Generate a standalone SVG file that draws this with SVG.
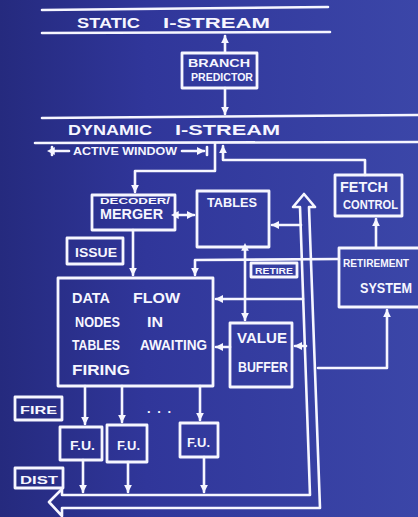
<svg xmlns="http://www.w3.org/2000/svg" width="418" height="517" viewBox="0 0 418 517">
<defs>
<linearGradient id="bg" x1="0" y1="0" x2="1" y2="0">
<stop offset="0" stop-color="#252a7e"/>
<stop offset="0.35" stop-color="#30369a"/>
<stop offset="1" stop-color="#3b46a8"/>
</linearGradient>
<marker id="ah" viewBox="0 0 10 10" refX="9" refY="5" markerWidth="3" markerHeight="3" orient="auto" markerUnits="strokeWidth">
<path d="M0,0 L10,5 L0,10 Z" fill="#f6f6ff"/>
</marker>
<marker id="as" viewBox="0 0 10 10" refX="1" refY="5" markerWidth="3" markerHeight="3" orient="auto-start-reverse" markerUnits="strokeWidth">
<path d="M0,0 L10,5 L0,10 Z" fill="#f6f6ff"/>
</marker>
</defs>
<style>
.box{fill:none;stroke:#f6f6ff;stroke-width:2.8;stroke-linejoin:round}
.ln{fill:none;stroke:#f6f6ff;stroke-width:2.6;stroke-linejoin:round;stroke-linecap:round}
.t{fill:#f6f6ff;font-family:"Liberation Sans","DejaVu Sans",sans-serif;font-weight:bold}
</style>
<rect x="0" y="0" width="418" height="517" fill="url(#bg)"/>

<g id="static-stream">
<path class="ln" d="M42,10 L328,7"/>
<path class="ln" d="M42,33 L330,32"/>
<text class="t" x="77" y="28" font-size="14" textLength="63" lengthAdjust="spacingAndGlyphs">STATIC</text>
<text class="t" x="163" y="28" font-size="14" textLength="107" lengthAdjust="spacingAndGlyphs">I-STREAM</text>
</g>

<g id="branch-predictor">
<rect class="box" x="182" y="53" width="75" height="35"/>
<text class="t" x="188" y="67" font-size="11" textLength="62" lengthAdjust="spacingAndGlyphs">BRANCH</text>
<text class="t" x="191" y="81" font-size="11" textLength="62" lengthAdjust="spacingAndGlyphs">PREDICTOR</text>
</g>

<g id="dynamic-stream">
<path class="ln" d="M42,118 L418,115"/>
<path class="ln" d="M35,143 L418,142"/>
<text class="t" x="68" y="135" font-size="14" textLength="84" lengthAdjust="spacingAndGlyphs">DYNAMIC</text>
<text class="t" x="175" y="135" font-size="14" textLength="105" lengthAdjust="spacingAndGlyphs">I-STREAM</text>
</g>

<g id="active-window">
<path class="ln" d="M52,147 L52,155"/>
<path class="ln" d="M54,151 L69,151" marker-start="url(#as)"/>
<text class="t" x="73" y="155" font-size="10" textLength="104" lengthAdjust="spacingAndGlyphs">ACTIVE WINDOW</text>
<path class="ln" d="M182,151 L204,151" marker-end="url(#ah)"/>
<path class="ln" d="M207,147 L207,155"/>
</g>

<g id="decoder-merger">
<rect class="box" x="92" y="195" width="83" height="35"/>
<text class="t" x="100" y="204" font-size="9" textLength="70" lengthAdjust="spacingAndGlyphs">DECODER/</text>
<text class="t" x="100" y="219" font-size="14" textLength="63" lengthAdjust="spacingAndGlyphs">MERGER</text>
</g>

<g id="tables">
<rect class="box" x="197" y="191" width="72" height="56"/>
<text class="t" x="207" y="207" font-size="12" textLength="50" lengthAdjust="spacingAndGlyphs">TABLES</text>
</g>

<g id="fetch-control">
<rect class="box" x="335" y="175" width="67" height="41"/>
<text class="t" x="340" y="192" font-size="14" textLength="48" lengthAdjust="spacingAndGlyphs">FETCH</text>
<text class="t" x="343" y="209" font-size="12" textLength="55" lengthAdjust="spacingAndGlyphs">CONTROL</text>
</g>

<g id="issue">
<rect class="box" x="67" y="238" width="56" height="26"/>
<text class="t" x="75" y="257" font-size="12" textLength="42" lengthAdjust="spacingAndGlyphs">ISSUE</text>
</g>

<g id="retire-label">
<rect class="box" x="251" y="263" width="46" height="14"/>
<text class="t" x="255" y="274" font-size="9" textLength="38" lengthAdjust="spacingAndGlyphs">RETIRE</text>
</g>

<g id="retirement-system">
<rect class="box" x="339" y="248" width="90" height="59"/>
<text class="t" x="343" y="267" font-size="11" textLength="66" lengthAdjust="spacingAndGlyphs">RETIREMENT</text>
<text class="t" x="360" y="293" font-size="14" textLength="52" lengthAdjust="spacingAndGlyphs">SYSTEM</text>
</g>

<g id="data-flow">
<rect class="box" x="58" y="278" width="155" height="108"/>
<text class="t" x="72" y="303" font-size="15" textLength="38" lengthAdjust="spacingAndGlyphs">DATA</text>
<text class="t" x="133" y="303" font-size="15" textLength="47" lengthAdjust="spacingAndGlyphs">FLOW</text>
<text class="t" x="75" y="327" font-size="15" textLength="45" lengthAdjust="spacingAndGlyphs">NODES</text>
<text class="t" x="147" y="327" font-size="15" textLength="16" lengthAdjust="spacingAndGlyphs">IN</text>
<text class="t" x="72" y="350" font-size="15" textLength="48" lengthAdjust="spacingAndGlyphs">TABLES</text>
<text class="t" x="140" y="350" font-size="15" textLength="67" lengthAdjust="spacingAndGlyphs">AWAITING</text>
<text class="t" x="72" y="375" font-size="15" textLength="58" lengthAdjust="spacingAndGlyphs">FIRING</text>
</g>

<g id="value-buffer">
<rect class="box" x="230" y="323" width="62" height="64"/>
<text class="t" x="237" y="343" font-size="14" textLength="50" lengthAdjust="spacingAndGlyphs">VALUE</text>
<text class="t" x="238" y="372" font-size="14" textLength="50" lengthAdjust="spacingAndGlyphs">BUFFER</text>
</g>

<g id="fire">
<rect class="box" x="15" y="397" width="47" height="23"/>
<text class="t" x="20" y="414" font-size="11" textLength="37" lengthAdjust="spacingAndGlyphs">FIRE</text>
</g>

<g id="fu1">
<rect class="box" x="60" y="427" width="42" height="33"/>
<text class="t" x="70" y="450" font-size="13" textLength="25" lengthAdjust="spacingAndGlyphs">F.U.</text>
</g>
<g id="fu2">
<rect class="box" x="107" y="425" width="40" height="37"/>
<text class="t" x="117" y="450" font-size="13" textLength="23" lengthAdjust="spacingAndGlyphs">F.U.</text>
</g>
<g id="fu3">
<rect class="box" x="180" y="423" width="38" height="34"/>
<text class="t" x="187" y="447" font-size="13" textLength="23" lengthAdjust="spacingAndGlyphs">F.U.</text>
</g>

<g id="dots">
<text class="t" x="147" y="413" font-size="13" textLength="24" lengthAdjust="spacing">...</text>
</g>

<g id="dist">
<rect class="box" x="15" y="468" width="48" height="20"/>
<text class="t" x="20" y="484" font-size="11" textLength="38" lengthAdjust="spacingAndGlyphs">DIST</text>
</g>

<g id="connectors">
<path class="ln" d="M225,52 L225,36" marker-end="url(#ah)"/>
<path class="ln" d="M225,88 L225,114" marker-end="url(#ah)"/>
<path class="ln" d="M215,143 L215,171 L135,171 L135,192" marker-end="url(#ah)"/>
<path class="ln" d="M365,175 L365,160 L223,160 L223,146" marker-end="url(#ah)"/>
<path class="ln" d="M178,215 L194,215" marker-start="url(#as)" marker-end="url(#ah)"/>
<path class="ln" d="M133,230 L133,275" marker-end="url(#ah)"/>
<path class="ln" d="M301,225 L272,225" marker-end="url(#ah)"/>
<path class="ln" d="M245,250 L245,320" marker-start="url(#as)" marker-end="url(#ah)"/>
<path class="ln" d="M339,259 L195,260 L195,275" marker-end="url(#ah)"/>
<path class="ln" d="M303,299 L216,299" marker-end="url(#ah)"/>
<path class="ln" d="M230,347 L216,347" marker-end="url(#ah)"/>
<path class="ln" d="M306,346 L295,346" marker-end="url(#ah)"/>
<path class="ln" d="M318,368 L387,368 L387,310" marker-end="url(#ah)"/>
<path class="ln" d="M376,248 L376,219" marker-end="url(#ah)"/>
<path class="ln" d="M85,386 L85,424" marker-end="url(#ah)"/>
<path class="ln" d="M122,386 L122,422" marker-end="url(#ah)"/>
<path class="ln" d="M200,386 L200,420" marker-end="url(#ah)"/>
<path class="ln" d="M83,460 L83,492" marker-end="url(#ah)"/>
<path class="ln" d="M128,462 L128,492" marker-end="url(#ah)"/>
<path class="ln" d="M204,457 L204,492" marker-end="url(#ah)"/>
<path class="ln" d="M62,495 L310,495 L300,207 L293,207 L304,194 L315,207 L309,207 L320,508 L62,508 L62,516 L49,502 L62,489 Z"/>
</g>
</svg>
